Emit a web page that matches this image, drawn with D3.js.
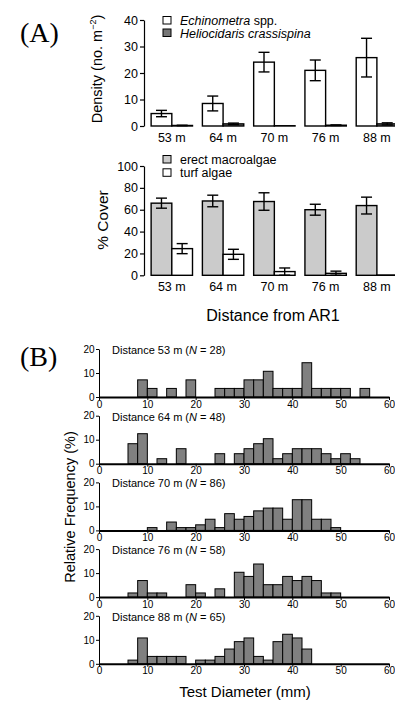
<!DOCTYPE html>
<html>
<head>
<meta charset="utf-8">
<script src="https://cdn.jsdelivr.net/npm/d3@7"></script>
<style>
  body { margin: 0; background: #fff; }
  svg { display: block; font-family: "Liberation Sans", Arial, sans-serif; }
  .axis path, .axis line { stroke: #000; }
  .axis text { fill: #000; font-family: "Liberation Sans", Arial, sans-serif; }
</style>
</head>
<body>
<script>
// ---- data ----
const sites = ["53 m", "64 m", "70 m", "76 m", "88 m"];

// (A) top: urchin density (no. m^-2), mean and SE
const echinoMean = [4.7, 8.5, 24.1, 21.0, 25.8];
const echinoErr = [1.2, 2.8, 3.7, 3.9, 7.3];
const helioMean = [0.2, 0.8, 0.1, 0.3, 0.8];
const helioErr = [0.1, 0.3, 0, 0.1, 0.4];

// (A) bottom: % cover
const erectMean = [66, 68, 67.5, 60, 63.8];
const erectErr = [4.6, 5.3, 8, 5, 7.7];
const turfMean = [24.4, 19.2, 3.4, 1.8, 0.3];
const turfErr = [4.6, 4.6, 3.3, 2, 0];

// (B) test diameter histograms, counts per 2 mm bin (0-2, 2-4, ... 58-60)
const histSites = ["53 m", "64 m", "70 m", "76 m", "88 m"];
const histN = [28, 48, 86, 58, 65];
const counts53 = [0,0,0,0,2,1,0,1,0,2,0,0,1,1,1,2,2,3,1,1,1,4,1,1,1,1,0,1,0,0];
const counts64 = [0,0,0,4,6,0,1,0,3,0,0,0,2,0,2,3,4,5,1,2,3,3,3,2,1,2,1,0,0,0];
const counts70 = [0,0,0,0,0,1,0,3,1,1,2,4,1,6,4,5,7,8,8,4,11,11,4,4,1,0,0,0,0,0];
const counts76 = [0,0,0,1,4,1,1,0,0,3,1,0,2,0,6,5,8,3,3,5,4,5,4,1,1,0,0,0,0,0];
const counts88 = [0,0,0,1,7,2,2,2,2,0,1,1,2,4,6,7,2,1,6,8,7,4,0,0,0,0,0,0,0,0];
const histCounts = [counts53, counts64, counts70, counts76, counts88];
const binWidth = 2;

const width = 395, height = 702;
const serif = "'Liberation Serif', 'Times New Roman', serif";

const svg = d3.select("body").append("svg")
  .attr("width", width)
  .attr("height", height);

// panel letters
svg.append("text").attr("x", 20).attr("y", 42)
  .style("font-family", serif)
  .style("font-size", "28px").text("(A)");
svg.append("text").attr("x", 20).attr("y", 366)
  .style("font-family", serif)
  .style("font-size", "28px").text("(B)");

// ---- panel A: grouped bars ----
const x0 = d3.scaleBand().domain(sites).range([146, 402.7])
  .paddingInner(0.193).paddingOuter(0.1);
const x1 = d3.scaleBand().domain([0, 1]).range([0, x0.bandwidth()]);
const axisX = 144;

const drawBars = (y, series, ticks, labelBaseline) => {
  const g = svg.append("g");
  series.forEach((s, k) => {
    const rows = sites.map((site, i) => ({site, v: s.mean[i], e: s.err[i]}));
    g.selectAll(null).data(rows).join("rect")
      .attr("x", (d) => x0(d.site) + x1(k))
      .attr("y", (d) => y(d.v))
      .attr("width", x1.bandwidth())
      .attr("height", (d) => Math.max(0, y(0) - y(d.v)))
      .attr("fill", s.fill)
      .attr("stroke", "#000")
      .attr("stroke-width", 1.4);

    const eb = rows.filter((d) => d.e > 0);
    const cx = (d) => x0(d.site) + x1(k) + x1.bandwidth() / 2;
    g.selectAll(null).data(eb).join("line")
      .attr("x1", cx).attr("x2", cx)
      .attr("y1", (d) => y(d.v + d.e)).attr("y2", (d) => y(Math.max(0, d.v - d.e)))
      .attr("stroke", "#000").attr("stroke-width", 1.4);
    [1, -1].forEach((sign) => {
      g.selectAll(null).data(eb).join("line")
        .attr("x1", (d) => cx(d) - 5.5).attr("x2", (d) => cx(d) + 5.5)
        .attr("y1", (d) => y(Math.max(0, d.v + sign * d.e)))
        .attr("y2", (d) => y(Math.max(0, d.v + sign * d.e)))
        .attr("stroke", "#000").attr("stroke-width", 1.4);
    });
  });

  svg.append("g").attr("class", "axis")
    .attr("transform", `translate(${axisX},0)`)
    .call(d3.axisLeft(y).tickValues(ticks).tickSize(4).tickSizeOuter(0).tickPadding(2))
    .call((a) => a.selectAll("text").style("font-size", "12.5px"))
    .call((a) => a.selectAll("path, line").attr("stroke-width", 1.2));

  svg.append("g").selectAll("text").data(sites).join("text")
    .attr("x", (d) => x0(d) + x0.bandwidth() / 2)
    .attr("y", labelBaseline)
    .attr("text-anchor", "middle")
    .style("font-size", "12.5px")
    .text((d) => d);

  return g;
};

// top: density
const yDen = d3.scaleLinear().domain([0, 40]).range([126, 20]);
drawBars(yDen, [
  {mean: echinoMean, err: echinoErr, fill: "#fff"},
  {mean: helioMean, err: helioErr, fill: "#777"}
], [0, 10, 20, 30, 40], 142);

const denLab = svg.append("text")
  .attr("transform", "translate(102,69) rotate(-90)")
  .attr("text-anchor", "middle")
  .style("font-size", "14.5px");
denLab.append("tspan").text("Density (no. m");
denLab.append("tspan").attr("dy", -6).style("font-size", "9px").text("\u22122");
denLab.append("tspan").attr("dy", 6).text(")");

// legend top
const legTop = [
  {label: "Echinometra", rest: " spp.", fill: "#fff", y: 25},
  {label: "Heliocidaris crassispina", rest: "", fill: "#777", y: 37.5}
];
legTop.forEach((d) => {
  svg.append("rect").attr("x", 163).attr("y", d.y - 8.5).attr("width", 8).attr("height", 7.5)
    .attr("fill", d.fill).attr("stroke", "#000").attr("stroke-width", 1);
  const t = svg.append("text").attr("x", 180).attr("y", d.y).style("font-size", "12.5px");
  t.append("tspan").style("font-style", "italic").text(d.label);
  t.append("tspan").text(d.rest);
});

// bottom: % cover
const yCov = d3.scaleLinear().domain([0, 100]).range([275.3, 166]);
drawBars(yCov, [
  {mean: erectMean, err: erectErr, fill: "#cbcbcb"},
  {mean: turfMean, err: turfErr, fill: "#fff"}
], [0, 20, 40, 60, 80, 100], 290.5);

svg.append("text")
  .attr("transform", "translate(108,220) rotate(-90)")
  .attr("text-anchor", "middle")
  .style("font-size", "15.5px")
  .text("% Cover");

const legBot = [
  {label: "erect macroalgae", fill: "#cbcbcb", y: 164},
  {label: "turf algae", fill: "#fff", y: 177.3}
];
legBot.forEach((d) => {
  svg.append("rect").attr("x", 163).attr("y", d.y - 8.5).attr("width", 8).attr("height", 7.5)
    .attr("fill", d.fill).attr("stroke", "#000").attr("stroke-width", 1);
  svg.append("text").attr("x", 180).attr("y", d.y).style("font-size", "12.5px").text(d.label);
});

svg.append("text").attr("x", 273).attr("y", 320.5)
  .attr("text-anchor", "middle").style("font-size", "16px")
  .text("Distance from AR1");

// ---- panel B: histograms ----
const xh = d3.scaleLinear().domain([0, 60]).range([99, 389]);
const rowStep = 66.7, rowH = 48, firstBase = 397;

histCounts.forEach((cnts, r) => {
  const base = firstBase + r * rowStep;
  const yh = d3.scaleLinear().domain([0, 20]).range([base, base - rowH]);
  const bins = cnts.map((c, i) => ({x0: i * binWidth, pct: c / histN[r] * 100}))
    .filter((d) => d.pct > 0);

  svg.append("g").selectAll("rect").data(bins).join("rect")
    .attr("x", (d) => xh(d.x0))
    .attr("y", (d) => yh(d.pct))
    .attr("width", (d) => xh(d.x0 + binWidth) - xh(d.x0))
    .attr("height", (d) => yh(0) - yh(d.pct))
    .attr("fill", "#808080")
    .attr("stroke", "#000")
    .attr("stroke-width", 1);

  svg.append("g").attr("class", "axis")
    .attr("transform", `translate(${xh(0)},0)`)
    .call(d3.axisLeft(yh).tickValues([0, 10, 20]).tickSize(3).tickSizeOuter(0).tickPadding(1.5))
    .call((a) => a.selectAll("text").style("font-size", "10px"));

  svg.append("g").attr("class", "axis")
    .attr("transform", `translate(0,${base})`)
    .call(d3.axisBottom(xh).tickValues(d3.range(0, 61, 10)).tickSize(3).tickSizeOuter(0).tickPadding(0.5))
    .call((a) => a.select("path").attr("stroke-width", 2))
    .call((a) => a.selectAll("text").style("font-size", "10px"));

  const t = svg.append("text").attr("x", 112).attr("y", base - 43).style("font-size", "11px");
  t.append("tspan").text(`Distance ${histSites[r]} (`);
  t.append("tspan").style("font-style", "italic").text("N");
  t.append("tspan").text(` = ${histN[r]})`);
});

svg.append("text")
  .attr("transform", "translate(75,507) rotate(-90)")
  .attr("text-anchor", "middle")
  .style("font-size", "14.5px")
  .text("Relative Frequency (%)");

svg.append("text").attr("x", 245).attr("y", 697)
  .attr("text-anchor", "middle").style("font-size", "15px")
  .text("Test Diameter (mm)");
</script>
</body>
</html>
